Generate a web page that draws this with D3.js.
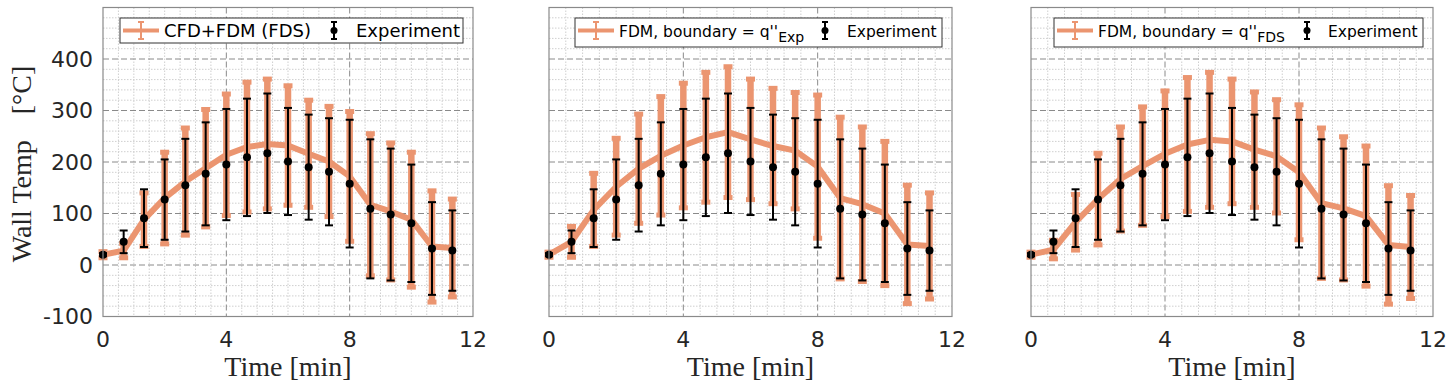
<!DOCTYPE html>
<html>
<head>
<meta charset="utf-8">
<script src="https://cdn.jsdelivr.net/npm/d3@7"></script>
<style>
  html, body { margin: 0; padding: 0; background: #fff; }
  svg { display: block; }
</style>
</head>
<body>
<svg id="chart" width="1453" height="391"></svg>
<script>
// time of each measurement [min]
const times = [0, 0.67, 1.33, 2, 2.67, 3.33, 4, 4.67, 5.33, 6, 6.67, 7.33, 8, 8.67, 9.33, 10, 10.67, 11.33]

// experiment: mean wall temperature and error half-width [°C]
const expMean = [20, 45, 91, 127, 155, 177, 195, 209, 217, 201, 190, 181, 158, 109, 98, 81, 32, 28]
const expErr  = [3, 22, 56, 78, 90, 100, 108, 114, 116, 104, 102, 104, 124, 135, 128, 114, 90, 78]

// CFD+FDM (FDS)
const fdsMean = [20, 28, 88, 130, 162, 188, 214, 229, 235, 232, 216, 201, 172, 117, 104, 88, 36, 33]
const fdsErr  = [6, 14, 52, 89, 104, 114, 118, 126, 126, 116, 104, 107, 126, 138, 133, 131, 108, 95]

// FDM, boundary = q''Exp
const qExpMean = [20, 45, 107, 152, 187, 212, 232, 248, 258, 244, 231, 222, 191, 130, 118, 100, 40, 37]
const qExpErr  = [5, 30, 71, 94, 106, 115, 121, 126, 127, 117, 112, 113, 139, 157, 150, 140, 115, 103]

// FDM, boundary = q''FDS
const qFdsMean = [20, 30, 83, 128, 167, 192, 216, 234, 243, 240, 224, 211, 180, 120, 110, 95, 39, 35]
const qFdsErr  = [5, 18, 54, 89, 101, 115, 122, 130, 131, 121, 112, 110, 131, 146, 139, 136, 115, 100]

const xTicks = [0, 4, 8, 12]
const yTicks = [-100, 0, 100, 200, 300, 400]

const ORANGE = "#eb9570"
const TEXT = "#262626"
const SANS = "'DejaVu Sans', sans-serif"
const SERIF = "'Liberation Serif', 'DejaVu Serif', serif"

const svg = d3.select("#chart")
const plotTop = 7.5, plotBottom = 316.5

const panels = [
  {left: 103, right: 473, mean: fdsMean, err: fdsErr, yLabels: true,
   legend: {x: 120, w: 343, h: 25, font: 18, label: "CFD+FDM (FDS)", sub: null, expX: 334, expText: 356}},
  {left: 549, right: 952, mean: qExpMean, err: qExpErr, yLabels: false,
   legend: {x: 575, w: 367, h: 29, font: 15.5, label: "FDM, boundary = q''", sub: "Exp", expX: 825, expText: 847}},
  {left: 1031, right: 1433, mean: qFdsMean, err: qFdsErr, yLabels: false,
   legend: {x: 1054, w: 369, h: 29, font: 15.5, label: "FDM, boundary = q''", sub: "FDS", expX: 1307, expText: 1328}}
]

panels.forEach(p => drawPanel(p))

function drawPanel(p) {
  const x = d3.scaleLinear().domain([0, 12]).range([p.left, p.right])
  const y = d3.scaleLinear().domain([-100, 500]).range([plotBottom, plotTop])
  const g = svg.append("g")

  g.append("rect")
      .attr("x", p.left).attr("y", plotTop)
      .attr("width", p.right - p.left).attr("height", plotBottom - plotTop)
      .attr("fill", "#fff")

  // minor grid
  const minorX = d3.range(0.5, 12, 0.5).filter(v => v % 4 !== 0)
  const minorY = d3.range(-80, 500, 20).filter(v => v % 100 !== 0)
  g.append("g").selectAll("line").data(minorX).join("line")
      .attr("x1", d => x(d)).attr("x2", d => x(d))
      .attr("y1", plotTop).attr("y2", plotBottom)
      .attr("stroke", "#cfcfcf").attr("stroke-dasharray", "1.5,1.5")
  g.append("g").selectAll("line").data(minorY).join("line")
      .attr("x1", p.left).attr("x2", p.right)
      .attr("y1", d => y(d)).attr("y2", d => y(d))
      .attr("stroke", "#cfcfcf").attr("stroke-dasharray", "1.5,1.5")

  // major grid
  g.append("g").selectAll("line").data([4, 8]).join("line")
      .attr("x1", d => x(d)).attr("x2", d => x(d))
      .attr("y1", plotTop).attr("y2", plotBottom)
      .attr("stroke", "#8a8a8a").attr("stroke-dasharray", "6,3")
  g.append("g").selectAll("line").data([0, 100, 200, 300, 400]).join("line")
      .attr("x1", p.left).attr("x2", p.right)
      .attr("y1", d => y(d)).attr("y2", d => y(d))
      .attr("stroke", "#8a8a8a").attr("stroke-dasharray", "6,3")

  // model line
  const pts = times.map((t, i) => [t, p.mean[i]])
  g.append("path")
      .datum(pts)
      .attr("d", d3.line().x(d => x(d[0])).y(d => y(d[1])))
      .attr("fill", "none")
      .attr("stroke", ORANGE)
      .attr("stroke-width", 6)
      .attr("stroke-linejoin", "round")

  // model error bars (thick, blocky caps)
  const mErr = g.append("g").selectAll("g").data(times).join("g")
  mErr.append("line")
      .attr("x1", d => x(d)).attr("x2", d => x(d))
      .attr("y1", (d, i) => y(p.mean[i] - p.err[i]))
      .attr("y2", (d, i) => y(p.mean[i] + p.err[i]))
      .attr("stroke", ORANGE).attr("stroke-width", 6.5)
  mErr.selectAll("line.cap")
      .data((d, i) => [[d, p.mean[i] - p.err[i]], [d, p.mean[i] + p.err[i]]])
      .join("line").attr("class", "cap")
      .attr("x1", d => x(d[0]) - 4.5).attr("x2", d => x(d[0]) + 4.5)
      .attr("y1", d => y(d[1])).attr("y2", d => y(d[1]))
      .attr("stroke", ORANGE).attr("stroke-width", 5)

  // experiment error bars and markers
  const eErr = g.append("g").selectAll("g").data(times).join("g")
  eErr.append("line")
      .attr("x1", d => x(d)).attr("x2", d => x(d))
      .attr("y1", (d, i) => y(expMean[i] - expErr[i]))
      .attr("y2", (d, i) => y(expMean[i] + expErr[i]))
      .attr("stroke", "#000").attr("stroke-width", 2)
  eErr.selectAll("line.cap")
      .data((d, i) => [[d, expMean[i] - expErr[i]], [d, expMean[i] + expErr[i]]])
      .join("line").attr("class", "cap")
      .attr("x1", d => x(d[0]) - 4).attr("x2", d => x(d[0]) + 4)
      .attr("y1", d => y(d[1])).attr("y2", d => y(d[1]))
      .attr("stroke", "#000").attr("stroke-width", 2)
  eErr.append("circle")
      .attr("cx", d => x(d))
      .attr("cy", (d, i) => y(expMean[i]))
      .attr("r", 4)
      .attr("fill", "#000")

  // frame
  g.append("rect")
      .attr("x", p.left).attr("y", plotTop)
      .attr("width", p.right - p.left).attr("height", plotBottom - plotTop)
      .attr("fill", "none").attr("stroke", "#8a8a8a").attr("stroke-width", 1.2)

  // tick labels
  g.append("g").selectAll("text").data(xTicks).join("text")
      .attr("x", d => x(d)).attr("y", 347)
      .attr("text-anchor", "middle")
      .attr("font-family", SANS).attr("font-size", 22).attr("fill", TEXT)
      .text(d => d)
  if (p.yLabels) {
    g.append("g").selectAll("text").data(yTicks).join("text")
        .attr("x", p.left - 10).attr("y", d => y(d))
        .attr("dy", "0.36em")
        .attr("text-anchor", "end")
        .attr("font-family", SANS).attr("font-size", 22).attr("fill", TEXT)
        .text(d => d)

    const yl = svg.append("text")
        .attr("transform", `translate(31,${(plotTop + plotBottom) / 2 + 2}) rotate(-90)`)
        .attr("text-anchor", "middle")
        .attr("font-family", SERIF).attr("font-size", 28).attr("fill", TEXT)
    yl.append("tspan").text("Wall Temp")
    yl.append("tspan").attr("dx", 26).text("[°C]")
  }

  g.append("text")
      .attr("x", (p.left + p.right) / 2).attr("y", 376)
      .attr("text-anchor", "middle")
      .attr("font-family", SERIF).attr("font-size", 28).attr("fill", TEXT)
      .text("Time [min]")

  // legend
  const L = p.legend
  const ly = 18
  const cy = ly + 12.5
  const lg = g.append("g")
  lg.append("rect")
      .attr("x", L.x).attr("y", ly).attr("width", L.w).attr("height", L.h)
      .attr("fill", "#fff").attr("stroke", "#333").attr("stroke-width", 1)
  const ix = L.x + 3
  lg.append("line")
      .attr("x1", ix).attr("x2", ix + 36).attr("y1", cy).attr("y2", cy)
      .attr("stroke", ORANGE).attr("stroke-width", 4)
  lg.append("line")
      .attr("x1", ix + 18).attr("x2", ix + 18).attr("y1", cy - 8.5).attr("y2", cy + 8.5)
      .attr("stroke", ORANGE).attr("stroke-width", 2)
  ;[cy - 8.5, cy + 8.5].forEach(v => {
    lg.append("line")
        .attr("x1", ix + 15).attr("x2", ix + 21).attr("y1", v).attr("y2", v)
        .attr("stroke", ORANGE).attr("stroke-width", 2)
  })
  const t = lg.append("text")
      .attr("x", ix + 41).attr("y", cy + 6)
      .attr("font-family", SANS).attr("font-size", L.font).attr("fill", "#000")
      .text(L.label)
  if (L.sub) {
    t.append("tspan").attr("dy", 5).attr("font-size", 14).text(L.sub)
  }
  lg.append("line")
      .attr("x1", L.expX).attr("x2", L.expX).attr("y1", cy - 8.5).attr("y2", cy + 8.5)
      .attr("stroke", "#000").attr("stroke-width", 2)
  ;[cy - 8.5, cy + 8.5].forEach(v => {
    lg.append("line")
        .attr("x1", L.expX - 3).attr("x2", L.expX + 3).attr("y1", v).attr("y2", v)
        .attr("stroke", "#000").attr("stroke-width", 2)
  })
  lg.append("circle").attr("cx", L.expX).attr("cy", cy).attr("r", 3.5).attr("fill", "#000")
  lg.append("text")
      .attr("x", L.expText).attr("y", cy + 6)
      .attr("font-family", SANS).attr("font-size", L.font).attr("fill", "#000")
      .text("Experiment")
}
</script>
</body>
</html>
